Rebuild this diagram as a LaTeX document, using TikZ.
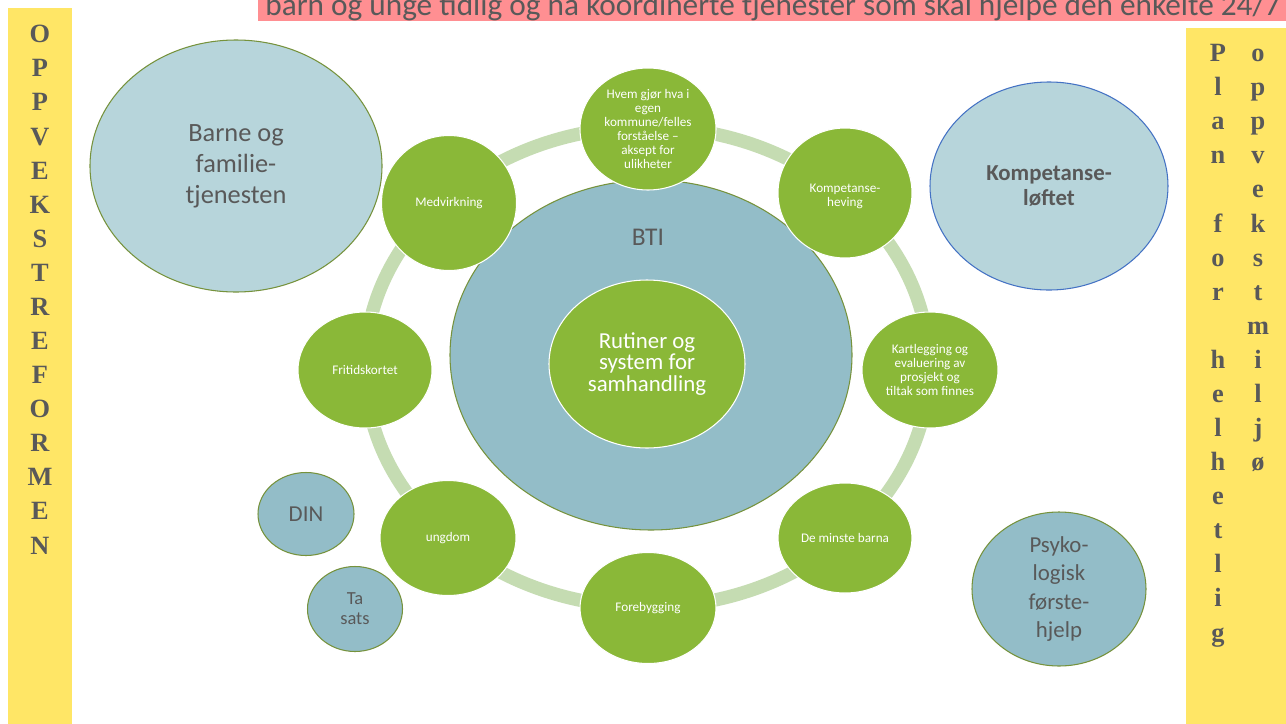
\documentclass[tikz,border=0pt]{standalone}
\usepackage{fontspec}
\setmainfont{Carlito}
\newfontfamily\barfont{Liberation Serif}
\usetikzlibrary{positioning, shapes.geometric}

\definecolor{leafgreen}{RGB}{138,184,56}
\definecolor{ringgreen}{RGB}{197,220,178}
\definecolor{btiblue}{RGB}{147,189,200}
\definecolor{paleblue}{RGB}{183,213,219}
\definecolor{olive}{RGB}{118,146,60}
\definecolor{edgeblue}{RGB}{68,114,196}
\definecolor{sunyellow}{RGB}{255,230,102}
\definecolor{rosepink}{RGB}{255,143,146}
\definecolor{txtgray}{RGB}{89,89,89}

\newcommand{\fs}[2]{\fontsize{#1}{#2}\selectfont}

\begin{document}
\begin{tikzpicture}[x=0.02cm, y=-0.02cm]
        % Define styles
        \tikzstyle{bubble} = [ellipse, inner sep=0pt, align=center]
        \tikzstyle{leaf} = [bubble, fill=leafgreen, draw=white, line width=0.6pt, text=white, font=\fs{7.5}{7.9}]
        \tikzstyle{sat} = [bubble, fill=btiblue, draw=olive, line width=0.6pt, text=txtgray]
        \tikzstyle{letters} = [align=center, inner sep=0pt, anchor=north, text=txtgray, font=\barfont\bfseries\fs{15}{19.4}]
        \tikzset{wh/.style 2 args={minimum width=#1*0.02cm, minimum height=#2*0.02cm}}

        \useasboundingbox (0,0) rectangle (1286,724);
        \fill[white] (0,0) rectangle (1286,724);

        % Banner and side bars
        \begin{scope}
            \clip (258,0) rectangle (1286,21);
            \fill[rosepink] (258,-30) rectangle (1286,21);
            \node[anchor=base west, inner sep=0pt, text=txtgray, font=\fs{17.8}{19}] (banner) at (265,15.5) {barn og unge tidlig og nå koordinerte tjenester som skal hjelpe den enkelte 24/7};
        \end{scope}
        \fill[sunyellow] (8,8) rectangle (72,724);
        \fill[sunyellow] (1186,28) rectangle (1286,724);
        \node[letters] (reform) at (40,25) {\vphantom{P}O\\P\\P\\V\\E\\K\\S\\T\\R\\E\\F\\O\\R\\M\\E\\N};
        \node[letters] (plan) at (1218,44) {\vphantom{P}P\\l\\a\\n\\\mbox{}\\f\\o\\r\\\mbox{}\\h\\e\\l\\h\\e\\t\\l\\i\\g};
        \node[letters] (environment) at (1258,44) {\vphantom{P}o\\p\\p\\v\\e\\k\\s\\t\\m\\i\\l\\j\\ø};

        % Ring and centre
        \coordinate (ring_centre) at (647,367);
        \draw[ringgreen, line width=7.6pt] (ring_centre) ellipse [x radius=282, y radius=240];
        \node[sat, wh={402}{350}] (bti) at (651,355) {};
        \node[text=txtgray, font=\fs{14.5}{16}] (bti_label) at (648,237) {BTI};
        \node[leaf, wh={196}{168}, font=\fs{13}{12.3}] (routines) at (647,364) {Rutiner og\\system for\\samhandling};

        % Place nodes on the ring
        \node[leaf, wh={136}{122}] (who_does_what) at (648,129) {Hvem gjør hva i\\egen\\kommune/felles\\forståelse –\\aksept for\\ulikheter};
        \node[leaf, wh={134}{130}] (upskilling) at (845,193) {\rule{0pt}{9pt}Kompetanse-\\heving};
        \node[leaf, wh={136}{116}] (mapping) at (930,370) {Kartlegging og\\evaluering av\\prosjekt og\\tiltak som finnes};
        \node[leaf, wh={134}{110}] (youngest) at (845,538) {De minste barna};
        \node[leaf, wh={136}{111}] (prevention) at (648,608) {Forebygging};
        \node[leaf, wh={136}{115}] (youth) at (448,538) {ungdom};
        \node[leaf, wh={134}{116}] (leisure_card) at (365,370) {Fritidskortet};
        \node[leaf, wh={135}{135}] (participation) at (449,203) {Medvirkning};

        % Outer bubbles
        \node[sat, fill=paleblue, wh={292}{252}, font=\fs{15}{17.6}] (family_services) at (236,166) {Barne og\\familie-\\tjenesten};
        \node[sat, fill=paleblue, draw=edgeblue, wh={238}{208}, font=\bfseries\fs{13}{14}] (competence_lift) at (1049,186) {Kompetanse-\\løftet};
        \node[sat, wh={96}{83}, font=\fs{13}{14}] (din) at (306,514) {DIN};
        \node[sat, wh={95}{85}, font=\fs{10.5}{11.3}] (ta_sats) at (355,609) {Ta\\sats};
        \node[sat, wh={174}{154}, font=\fs{13}{16}] (first_aid) at (1059,589) {Psyko-\\logisk\\første-\\hjelp};
\end{tikzpicture}
\end{document}
